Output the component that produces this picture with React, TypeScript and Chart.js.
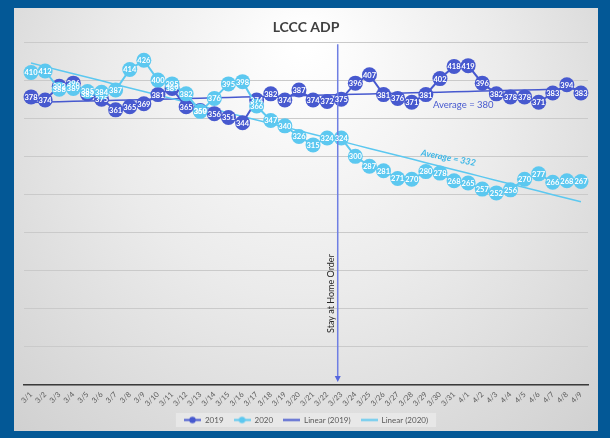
import React, { useEffect, useRef } from 'react';
import { Chart, registerables } from 'chart.js';

Chart.register(...registerables);

const categories = [
  '3/1', '3/2', '3/3', '3/4', '3/5', '3/6', '3/7', '3/8', '3/9', '3/10',
  '3/11', '3/12', '3/13', '3/14', '3/15', '3/16', '3/17', '3/18', '3/19', '3/20',
  '3/21', '3/22', '3/23', '3/24', '3/25', '3/26', '3/27', '3/28', '3/29', '3/30',
  '3/31', '4/1', '4/2', '4/3', '4/4', '4/5', '4/6', '4/7', '4/8', '4/9',
];

const adp2019 = [
  378, 374, 392, 396, 382, 375, 361, 365, 369, 381,
  389, 365, 360, 356, 351, 344, 374, 382, 374, 387,
  374, 372, 375, 396, 407, 381, 376, 371, 381, 402,
  418, 419, 396, 382, 378, 378, 371, 383, 394, 383,
];

const adp2020 = [
  410, 412, 388, 389, 385, 384, 387, 414, 426, 400,
  395, 382, 359, 376, 395, 398, 366, 347, 340, 326,
  315, 324, 324, 300, 287, 281, 271, 270, 280, 278,
  268, 265, 257, 252, 256, 270, 277, 266, 268, 267,
];

const seriesLabels = ['2019', '2020', 'Linear (2019)', 'Linear (2020)'];
const titleText = 'LCCC ADP';
const eventLabel = 'Stay at Home Order';
const eventDate = '3/23';
const avgLabel2019 = 'Average = 380';
const avgLabel2020 = 'Average = 332';
const yMin = 0;
const yMax = 450;
const yStep = 50;

const C19 = '#4759cf';
const C20 = '#5cc8f0';
const FONT = 'Lato, "Open Sans", sans-serif';

function linearFit(values: number[]): number[] {
  const n = values.length;
  let sx = 0, sy = 0, sxx = 0, sxy = 0;
  values.forEach((v, i) => { sx += i; sy += v; sxx += i * i; sxy += i * v; });
  const slope = (n * sxy - sx * sy) / (n * sxx - sx * sx);
  const icpt = (sy - slope * sx) / n;
  return values.map((_, i) => icpt + slope * i);
}

function legendImage(color: string, marker: boolean): HTMLCanvasElement {
  const c = document.createElement('canvas');
  c.width = 17; c.height = 9;
  const g = c.getContext('2d')!;
  g.strokeStyle = color; g.lineWidth = 2;
  g.beginPath(); g.moveTo(0, 4.5); g.lineTo(17, 4.5); g.stroke();
  if (marker) {
    g.fillStyle = color;
    g.beginPath(); g.arc(8.5, 4.5, 3.2, 0, Math.PI * 2); g.fill();
  }
  return c;
}

export default function App() {
  const ref = useRef<HTMLCanvasElement | null>(null);

  useEffect(() => {
    const canvas = ref.current!;
    const legendImgs = [legendImage(C19, true), legendImage(C20, true), legendImage(C19, false), legendImage(C20, false)];

    const bgPlugin = {
      id: 'bg',
      beforeDraw(chart: any) {
        const { ctx, width, height } = chart;
        ctx.save();
        ctx.fillStyle = '#035896';
        ctx.fillRect(0, 0, width, height);
        const px = 14, py = 8, pw = 584, ph = 423;
        const grad = ctx.createRadialGradient(305, 40, 10, 305, 160, 430);
        grad.addColorStop(0, '#ffffff');
        grad.addColorStop(0.45, '#ebebeb');
        grad.addColorStop(1, '#cdcdcd');
        ctx.fillStyle = grad;
        ctx.fillRect(px, py, pw, ph);
        const lg = chart.legend;
        if (lg && lg.legendHitBoxes && lg.legendHitBoxes.length) {
          const boxes = lg.legendHitBoxes;
          const x0 = Math.min(...boxes.map((b: any) => b.left)) - 8;
          const x1 = Math.max(...boxes.map((b: any) => b.left + b.width)) + 8;
          const y0 = Math.min(...boxes.map((b: any) => b.top)) - 3;
          const y1 = Math.max(...boxes.map((b: any) => b.top + b.height)) + 3;
          ctx.fillStyle = 'rgba(235,235,235,0.75)';
          ctx.fillRect(x0, y0, x1 - x0, y1 - y0);
        }
        ctx.restore();
      },
    };

    const overlayPlugin = {
      id: 'overlay',
      afterDatasetsDraw(chart: any) {
        const { ctx } = chart;
        const xs = chart.scales.x;
        const ys = chart.scales.y;
        const evIdx = categories.indexOf(eventDate) - 0.25;
        const lx = xs.getPixelForValue(evIdx);
        const top = ys.getPixelForValue(447);
        const bot = ys.getPixelForValue(4);
        ctx.save();
        ctx.strokeStyle = '#6f7fe3';
        ctx.lineWidth = 1.5;
        ctx.beginPath(); ctx.moveTo(lx, top); ctx.lineTo(lx, bot - 5); ctx.stroke();
        ctx.fillStyle = '#5566dd';
        ctx.beginPath(); ctx.moveTo(lx - 3, bot - 6); ctx.lineTo(lx + 3, bot - 6); ctx.lineTo(lx, bot); ctx.closePath(); ctx.fill();

        ctx.save();
        ctx.translate(xs.getPixelForValue(categories.indexOf(eventDate) - 0.7), ys.getPixelForValue(120));
        ctx.rotate(-Math.PI / 2);
        ctx.fillStyle = '#262626';
        ctx.font = `9px ${FONT}`;
        ctx.textAlign = 'center';
        ctx.textBaseline = 'middle';
        ctx.fillText(eventLabel, 0, 0);
        ctx.restore();

        ctx.fillStyle = C19;
        ctx.font = `9.5px ${FONT}`;
        ctx.textAlign = 'left';
        ctx.textBaseline = 'middle';
        ctx.fillText(avgLabel2019, xs.getPixelForValue(28.5), ys.getPixelForValue(368));

        ctx.save();
        ctx.translate(xs.getPixelForValue(29.6), ys.getPixelForValue(298));
        ctx.rotate((11 * Math.PI) / 180);
        ctx.fillStyle = '#3bb6e6';
        ctx.font = `italic bold 9px ${FONT}`;
        ctx.textAlign = 'center';
        ctx.textBaseline = 'middle';
        ctx.fillText(avgLabel2020, 0, 0);
        ctx.restore();

        ctx.font = `bold 7.5px ${FONT}`;
        ctx.fillStyle = '#ffffff';
        ctx.textAlign = 'center';
        ctx.textBaseline = 'middle';
        [0, 1].forEach((di) => {
          const meta = chart.getDatasetMeta(di);
          const vals = chart.data.datasets[di].data as number[];
          meta.data.forEach((pt: any, i: number) => {
            ctx.fillText(String(vals[i]), pt.x, pt.y + 0.5);
          });
        });
        ctx.restore();
      },
    };

    const chart = new Chart(canvas, {
      type: 'line',
      data: {
        labels: categories,
        datasets: [
          {
            label: seriesLabels[0], data: adp2019, borderColor: C19, backgroundColor: C19,
            borderWidth: 2, pointRadius: 7.5, pointBorderWidth: 0, pointBackgroundColor: C19, order: 2, tension: 0,
          },
          {
            label: seriesLabels[1], data: adp2020, borderColor: C20, backgroundColor: C20,
            borderWidth: 2, pointRadius: 7.5, pointBorderWidth: 0, pointBackgroundColor: C20, order: 1, tension: 0,
          },
          {
            label: seriesLabels[2], data: linearFit(adp2019), borderColor: C19, borderWidth: 1.5,
            pointRadius: 0, order: 4, tension: 0,
          },
          {
            label: seriesLabels[3], data: linearFit(adp2020), borderColor: C20, borderWidth: 1.5,
            pointRadius: 0, order: 3, tension: 0,
          },
        ],
      },
      options: {
        responsive: false,
        animation: false,
        events: [],
        layout: { padding: { top: 9, left: 24, right: 22, bottom: 4 } },
        scales: {
          x: {
            offset: true,
            grid: { display: false },
            border: { display: true, color: '#3a3a3a', width: 1.5 },
            ticks: {
              autoSkip: false, maxRotation: 45, minRotation: 45, padding: -3,
              color: '#595959', font: { family: FONT, size: 7.5 },
            },
            afterFit: (scale: any) => { scale.height = 21; },
          },
          y: {
            min: yMin, max: yMax,
            grid: { color: '#cacaca', lineWidth: 1, drawTicks: false },
            border: { display: false },
            ticks: { display: false, stepSize: yStep },
          },
        },
        plugins: {
          title: {
            display: true, text: titleText, color: '#404040',
            font: { family: FONT, size: 14, weight: 'bold' },
            padding: { top: 10, bottom: 6.2 },
          },
          legend: {
            position: 'bottom',
            labels: {
              usePointStyle: true,
              pointStyleWidth: 17,
              padding: 10,
              color: '#595959',
              font: { family: FONT, size: 8 },
              generateLabels: (ch: any) => ch.data.datasets.map((ds: any, i: number) => ({
                text: ds.label, datasetIndex: i, pointStyle: legendImgs[i], hidden: false,
                fillStyle: 'transparent', strokeStyle: 'transparent', lineWidth: 0, fontColor: '#595959',
              })),
            },
          },
          tooltip: { enabled: false },
        },
      },
      plugins: [bgPlugin, overlayPlugin],
    } as any);

    return () => chart.destroy();
  }, []);

  return (
    <div style={{ position: 'absolute', left: 0, top: 0, width: 610, height: 438 }}>
      <canvas ref={ref} width={610} height={438} />
    </div>
  );
}
